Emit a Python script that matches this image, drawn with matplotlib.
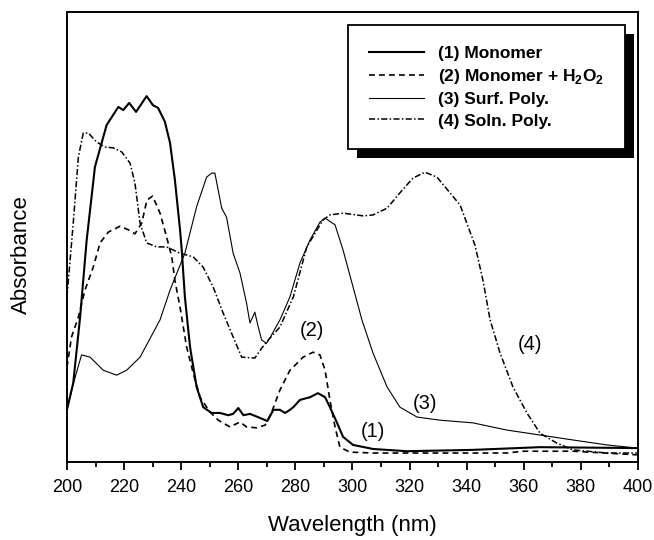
import matplotlib
matplotlib.use("Agg")
import matplotlib.pyplot as plt
from matplotlib.patches import Rectangle
from matplotlib.ticker import MultipleLocator

plt.rcParams["font.family"] = ["Liberation Sans", "DejaVu Sans"]
plt.rcParams["mathtext.fontset"] = "custom"
plt.rcParams["mathtext.rm"] = "Liberation Sans"
plt.rcParams["mathtext.bf"] = "Liberation Sans:bold"

# (1) monomer
wl_1 = [200.0, 202.2, 204.6, 206.9, 209.8, 213.9, 218.0, 219.7, 221.8, 224.2, 227.9, 230.1,
        231.9, 234.3, 236.1, 237.8, 239.6, 240.2, 241.3, 243.1, 245.4, 247.7, 250.7, 253.6,
        256.5, 258.2, 260.0, 261.8, 264.1, 267.6, 270.2, 272.3, 274.6, 276.4, 278.1, 279.3,
        281.6, 285.1, 287.9, 290.4, 292.1, 294.6, 296.7, 300.2, 307.2, 319.1, 342.2, 365.7, 399.6]
abs_1 = [0.116, 0.176, 0.322, 0.493, 0.656, 0.749, 0.789, 0.782, 0.798, 0.778, 0.813, 0.793,
         0.787, 0.756, 0.709, 0.627, 0.516, 0.471, 0.367, 0.256, 0.167, 0.122, 0.109, 0.109,
         0.104, 0.107, 0.120, 0.104, 0.107, 0.098, 0.091, 0.116, 0.116, 0.109, 0.116, 0.122,
         0.138, 0.144, 0.153, 0.144, 0.122, 0.087, 0.056, 0.038, 0.029, 0.024, 0.027, 0.033, 0.031]

# (2) monomer + H2O2
wl_2 = [200.0, 201.6, 204.0, 206.3, 209.2, 211.6, 214.5, 218.6, 221.5, 223.8, 226.2, 228.0,
        230.0, 232.6, 234.9, 236.7, 237.8, 239.6, 241.9, 244.2, 246.6, 250.1, 253.0, 257.1,
        260.6, 262.9, 266.4, 269.4, 271.7, 274.6, 278.1, 281.0, 282.7, 286.2, 288.6, 290.4,
        292.1, 293.9, 295.6, 299.1, 307.2, 330.6, 354.1, 359.7, 377.2, 399.6]
abs_2 = [0.211, 0.278, 0.322, 0.382, 0.433, 0.487, 0.511, 0.524, 0.516, 0.507, 0.531, 0.582,
         0.591, 0.553, 0.500, 0.456, 0.404, 0.344, 0.256, 0.198, 0.144, 0.111, 0.093, 0.078,
         0.089, 0.078, 0.076, 0.082, 0.111, 0.160, 0.204, 0.222, 0.233, 0.244, 0.238, 0.204,
         0.138, 0.078, 0.033, 0.022, 0.020, 0.020, 0.020, 0.024, 0.024, 0.016]

# (3) surface polymer
wl_3 = [200.0, 202.1, 205.1, 208.1, 212.7, 217.4, 220.9, 225.6, 232.6, 236.1, 241.3, 245.4,
        248.9, 250.7, 251.8, 254.2, 255.9, 258.2, 260.6, 262.9, 264.1, 265.8, 267.0, 268.2,
        269.9, 271.1, 274.6, 278.1, 281.6, 285.1, 288.6, 290.4, 293.9, 296.7, 300.2, 303.3,
        307.2, 312.1, 316.6, 322.6, 330.6, 342.2, 354.1, 365.7, 377.2, 389.1, 399.6]
abs_3 = [0.116, 0.171, 0.238, 0.233, 0.204, 0.193, 0.204, 0.233, 0.316, 0.382, 0.464, 0.567,
         0.633, 0.642, 0.642, 0.564, 0.544, 0.464, 0.420, 0.353, 0.309, 0.333, 0.300, 0.271,
         0.264, 0.276, 0.316, 0.367, 0.442, 0.493, 0.533, 0.542, 0.527, 0.471, 0.389, 0.316,
         0.242, 0.167, 0.122, 0.100, 0.093, 0.087, 0.071, 0.060, 0.049, 0.038, 0.031]

# (4) solution polymer
wl_4 = [200.0, 202.2, 204.0, 205.7, 207.5, 210.4, 213.3, 216.2, 219.2, 222.1, 223.8, 225.6,
        227.9, 231.4, 234.9, 239.6, 244.2, 247.7, 251.2, 254.7, 258.2, 261.2, 265.8, 268.2,
        270.5, 274.6, 279.3, 284.0, 289.7, 292.1, 296.7, 303.7, 307.2, 312.1, 316.6, 321.2,
        325.4, 329.6, 337.7, 342.9, 345.7, 348.2, 351.7, 356.2, 361.1, 365.7, 371.6, 377.2,
        389.1, 399.6]
abs_4 = [0.367, 0.531, 0.678, 0.731, 0.731, 0.711, 0.700, 0.698, 0.689, 0.664, 0.620, 0.531,
         0.487, 0.478, 0.478, 0.464, 0.456, 0.433, 0.389, 0.331, 0.278, 0.233, 0.231, 0.253,
         0.271, 0.300, 0.367, 0.478, 0.538, 0.549, 0.553, 0.547, 0.549, 0.564, 0.598, 0.631,
         0.644, 0.633, 0.571, 0.482, 0.404, 0.316, 0.242, 0.167, 0.109, 0.064, 0.042, 0.027,
         0.020, 0.020]

legend_labels = ["(1) Monomer", r"(2) Monomer + H$_\mathbf{2}$O$_\mathbf{2}$",
                 "(3) Surf. Poly.", "(4) Soln. Poly."]
curve_tags = ["(1)", "(2)", "(3)", "(4)"]
tag_x = [307.2, 285.8, 325.4, 362.2]
tag_y = [0.067, 0.293, 0.131, 0.262]

fig = plt.figure(figsize=(6.54, 5.4), dpi=100)
ax = fig.add_axes([0.1024, 0.1444, 0.8731, 0.8334])

ax.plot(wl_1, abs_1, color="black", lw=1.5, ls="-", label=legend_labels[0])
ax.plot(wl_2, abs_2, color="black", lw=1.2, ls=(0, (3.5, 2.5)), label=legend_labels[1])
ax.plot(wl_3, abs_3, color="black", lw=0.8, ls="-", label=legend_labels[2])
ax.plot(wl_4, abs_4, color="black", lw=1.1, ls=(0, (4, 1.5, 1, 1.5)), label=legend_labels[3])

for t, x, y in zip(curve_tags, tag_x, tag_y):
    ax.text(x, y, t, ha="center", va="center", fontsize=14.5)

ax.set_xlim(200, 400)
ax.set_ylim(0, 1)
ax.xaxis.set_major_locator(MultipleLocator(20))
ax.xaxis.set_minor_locator(MultipleLocator(10))
ax.tick_params(axis="x", which="major", direction="out", length=6, width=1.3, labelsize=13, pad=6)
ax.tick_params(axis="x", which="minor", direction="out", length=3.5, width=1.3)
ax.set_yticks([])
for s in ax.spines.values():
    s.set_linewidth(1.4)

ax.set_xlabel("Wavelength (nm)", fontsize=16, labelpad=14)
ax.set_ylabel("Absorbance", fontsize=16)
ax.yaxis.set_label_coords(-0.062, 0.46)

leg = ax.legend(loc="upper right", bbox_to_anchor=(0.977, 0.971), frameon=True, fancybox=False,
                edgecolor="black", facecolor="white", framealpha=1, handlelength=3.2,
                handletextpad=0.8, borderpad=1.2, labelspacing=0.35,
                prop={"weight": "bold", "size": 12.5}, borderaxespad=0)
leg.get_frame().set_linewidth(1.3)
leg.set_zorder(6)

# black drop shadow behind the legend box
fig.canvas.draw()
bb = leg.get_window_extent()
off = 9
shadow = Rectangle((bb.x0 + off, bb.y0 - off), bb.width, bb.height, transform=None,
                   facecolor="black", edgecolor="none", zorder=5)
ax.add_artist(shadow)

fig.savefig("out.png", dpi=100)
